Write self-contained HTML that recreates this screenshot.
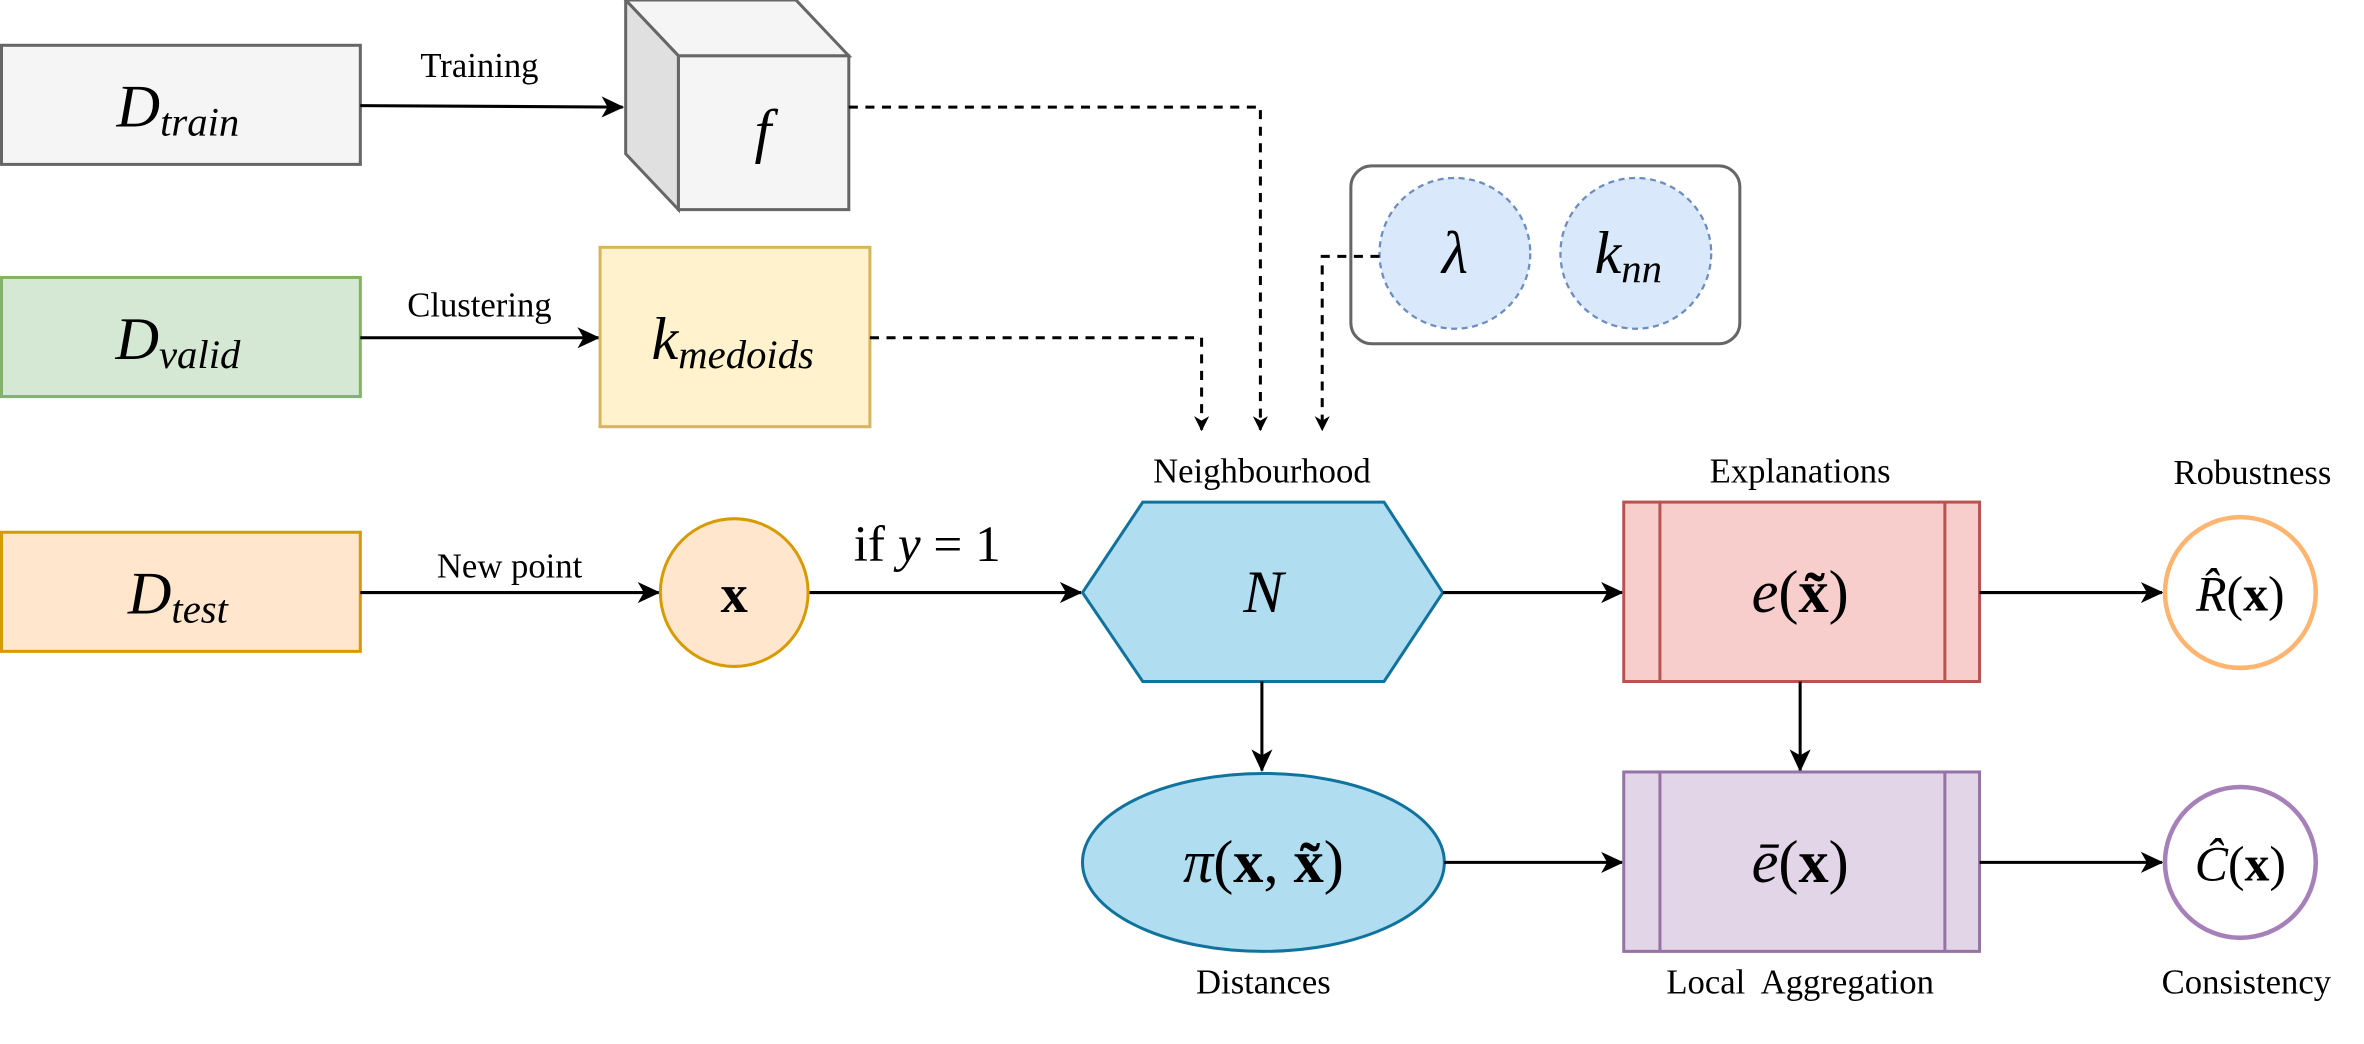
<!DOCTYPE html>
<html><head><meta charset="utf-8"><style>
html,body{margin:0;padding:0;background:#fff;}
svg{display:block;}
svg, svg text, svg tspan{font-family:"Liberation Serif","DejaVu Serif",serif !important;}
text{fill:#000;}
.lbl{font-size:23px;text-anchor:middle;}
.m{font-size:40px;text-anchor:middle;font-style:italic;}
</style></head><body>
<svg width="2364" height="1044" viewBox="0 0 1568 692.4" xmlns="http://www.w3.org/2000/svg" font-family="Liberation Serif, DejaVu Serif, serif">
<defs>
<marker id="ah" markerWidth="10" markerHeight="10" refX="9" refY="5" orient="auto" markerUnits="userSpaceOnUse" viewBox="0 0 10 10">
<path d="M0,0 L10,5 L0,10 L3,5 Z" fill="#000"/></marker>
<marker id="ahs" markerWidth="16" markerHeight="16" refX="14" refY="8" orient="auto" markerUnits="userSpaceOnUse" viewBox="0 0 16 16">
<path d="M0,1 L15,8 L0,15 L4,8 Z" fill="#000"/></marker>
</defs>

<g>
<rect x="1" y="30" width="238" height="79" fill="#f5f5f5" stroke="#666" stroke-width="2"/>
<text x="118" y="84" class="m">D<tspan font-size="27" dy="6">train</tspan></text></g>
<line x1="239" y1="70" x2="413" y2="71" stroke="#000" stroke-width="2" marker-end="url(#ahs)"/>
<text x="318" y="51" class="lbl">Training</text>

<g>
<polygon points="415,0 528,0 563,37 450,37" fill="#f5f5f5" stroke="#666" stroke-width="2"/>
<polygon points="415,0 450,37 450,139 415,102" fill="#e0e0e0" stroke="#666" stroke-width="2"/>
<rect x="450" y="37" width="113" height="102" fill="#f5f5f5" stroke="#666" stroke-width="2"/>
<text x="506" y="100" class="m">f</text></g>
<polyline points="563,71 836,71 836,285" fill="none" stroke="#000" stroke-width="2" stroke-dasharray="6,5" marker-end="url(#ah)"/>

<g>
<rect x="1" y="184" width="238" height="79" fill="#d5e8d4" stroke="#82b366" stroke-width="2"/>
<text x="118" y="238" class="m">D<tspan font-size="27" dy="6">valid</tspan></text></g>
<line x1="239" y1="224" x2="397" y2="224" stroke="#000" stroke-width="2" marker-end="url(#ahs)"/>
<text x="318" y="210" class="lbl">Clustering</text>
<g>
<rect x="398" y="164" width="179" height="119" fill="#fff2cc" stroke="#d6b656" stroke-width="2"/>
<text x="486" y="238" class="m">k<tspan font-size="27" dy="6">medoids</tspan></text></g>
<polyline points="577,224 797,224 797,285" fill="none" stroke="#000" stroke-width="2" stroke-dasharray="6,5" marker-end="url(#ah)"/>

<g>
<rect x="896" y="110" width="258" height="118" rx="14" fill="#fff" stroke="#666" stroke-width="2"/>
<circle cx="965" cy="168" r="50" fill="#dae8fc" stroke="#6c8ebf" stroke-width="1.5" stroke-dasharray="4,3"/>
<text x="965" y="181" class="m">λ</text>
<circle cx="1085" cy="168" r="50" fill="#dae8fc" stroke="#6c8ebf" stroke-width="1.5" stroke-dasharray="4,3"/>
<text x="1080" y="181" class="m">k<tspan font-size="27" dy="6">nn</tspan></text></g>
<polyline points="915,170 877,170 877,285" fill="none" stroke="#000" stroke-width="2" stroke-dasharray="6,5" marker-end="url(#ah)"/>

<g>
<rect x="1" y="353" width="238" height="79" fill="#ffe6cc" stroke="#d79b00" stroke-width="2"/>
<text x="118" y="407" class="m">D<tspan font-size="27" dy="6">test</tspan></text></g>
<line x1="239" y1="393" x2="437" y2="393" stroke="#000" stroke-width="2" marker-end="url(#ahs)"/>
<text x="338" y="383" class="lbl">New point</text>
<g>
<circle cx="487" cy="393" r="49" fill="#ffe6cc" stroke="#d79b00" stroke-width="2"/>
<text x="487" y="406" font-size="36" font-weight="bold" text-anchor="middle">x</text></g>
<text x="615" y="372" font-size="34" text-anchor="middle">if <tspan font-style="italic">y</tspan> = 1</text>
<line x1="537" y1="393" x2="717" y2="393" stroke="#000" stroke-width="2" marker-end="url(#ahs)"/>

<text x="837" y="320" class="lbl">Neighbourhood</text>
<g>
<polygon points="718,393 758,333 918,333 957,393 918,452 758,452" fill="#b1ddf0" stroke="#10739e" stroke-width="2"/>
<text x="838" y="406" class="m">N</text></g>
<line x1="957" y1="393" x2="1076" y2="393" stroke="#000" stroke-width="2" marker-end="url(#ahs)"/>

<text x="1194" y="320" class="lbl">Explanations</text>
<g>
<rect x="1077" y="333" width="236" height="119" fill="#f8cecc" stroke="#b85450" stroke-width="2"/>
<line x1="1101" y1="333" x2="1101" y2="452" stroke="#b85450" stroke-width="2"/>
<line x1="1290" y1="333" x2="1290" y2="452" stroke="#b85450" stroke-width="2"/>
<text x="1194" y="406" font-size="40" text-anchor="middle"><tspan font-style="italic">e</tspan>(<tspan font-weight="bold">x̃</tspan>)</text></g>
<line x1="1313" y1="393" x2="1434" y2="393" stroke="#000" stroke-width="2" marker-end="url(#ahs)"/>
<text x="1494" y="321" class="lbl">Robustness</text>
<g>
<circle cx="1486" cy="393" r="50" fill="#fff" stroke="#ffb570" stroke-width="3"/>
<text x="1486" y="405" font-size="33" text-anchor="middle"><tspan font-style="italic">R̂</tspan>(<tspan font-weight="bold">x</tspan>)</text></g>

<line x1="837" y1="452" x2="837" y2="511" stroke="#000" stroke-width="2" marker-end="url(#ahs)"/>
<g>
<ellipse cx="838" cy="572" rx="120" ry="59" fill="#b1ddf0" stroke="#10739e" stroke-width="2"/>
<text x="838" y="585" font-size="40" text-anchor="middle"><tspan font-style="italic">π</tspan>(<tspan font-weight="bold">x</tspan>, <tspan font-weight="bold">x̃</tspan>)</text></g>
<text x="838" y="659" class="lbl">Distances</text>

<line x1="1194" y1="452" x2="1194" y2="511" stroke="#000" stroke-width="2" marker-end="url(#ahs)"/>
<line x1="958" y1="572" x2="1076" y2="572" stroke="#000" stroke-width="2" marker-end="url(#ahs)"/>
<g>
<rect x="1077" y="512" width="236" height="119" fill="#e1d5e7" stroke="#9673a6" stroke-width="2"/>
<line x1="1101" y1="512" x2="1101" y2="631" stroke="#9673a6" stroke-width="2"/>
<line x1="1290" y1="512" x2="1290" y2="631" stroke="#9673a6" stroke-width="2"/>
<text x="1194" y="585" font-size="40" text-anchor="middle"><tspan font-style="italic">ē</tspan>(<tspan font-weight="bold">x</tspan>)</text></g>
<text x="1194" y="659" class="lbl" xml:space="preserve">Local  Aggregation</text>
<line x1="1313" y1="572" x2="1434" y2="572" stroke="#000" stroke-width="2" marker-end="url(#ahs)"/>
<g>
<circle cx="1486" cy="572" r="50" fill="#fff" stroke="#a680b8" stroke-width="3"/>
<text x="1486" y="584" font-size="33" text-anchor="middle"><tspan font-style="italic">Ĉ</tspan>(<tspan font-weight="bold">x</tspan>)</text></g>
<text x="1490" y="659" class="lbl">Consistency</text>
</svg>
</body></html>
